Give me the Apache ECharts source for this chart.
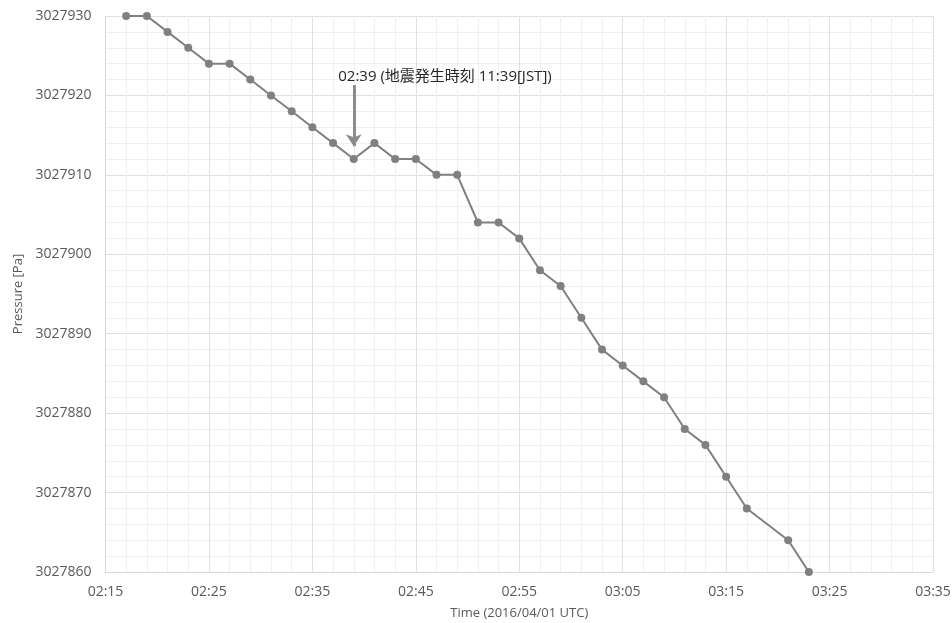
<!DOCTYPE html>
<html>
<head>
<meta charset="utf-8">
<script src="https://cdn.jsdelivr.net/npm/echarts@6/dist/echarts.min.js"></script>
<style>html,body{margin:0;padding:0;background:#fff}#c{width:952px;height:623px}</style>
</head>
<body>
<div id="c"></div>
<script>
const baseTime = "02:15";
const times = ["02:17","02:19","02:21","02:23","02:25","02:27","02:29","02:31","02:33","02:35","02:37","02:39","02:41","02:43","02:45","02:47","02:49","02:51","02:53","02:55","02:57","02:59","03:01","03:03","03:05","03:07","03:09","03:11","03:13","03:15","03:17","03:21","03:23"];
const pressure = [3027930,3027930,3027928,3027926,3027924,3027924,3027922,3027920,3027918,3027916,3027914,3027912,3027914,3027912,3027912,3027910,3027910,3027904,3027904,3027902,3027898,3027896,3027892,3027888,3027886,3027884,3027882,3027878,3027876,3027872,3027868,3027864,3027860];
const quakeTime = "02:39";
const quakeText = "02:39 (地震発生時刻 11:39[JST])";
const arrowFrom = 3027921.3;
const arrowTo = 3027913.6;

function toMin(s){const p=s.split(':');return (+p[0])*60+(+p[1]);}
const base = toMin(baseTime);
function fmt(v){const m=base+v;const h=Math.floor(m/60),mm=m%60;return String(h).padStart(2,'0')+':'+String(mm).padStart(2,'0');}
const data = times.map((t,i)=>[toMin(t)-base, pressure[i]]);
const qx = toMin(quakeTime)-base;

const font = "'Open Sans','Noto Sans CJK JP',sans-serif";
const chart = echarts.init(document.getElementById('c'));
chart.setOption({
  animation:false,
  grid:{left:105.5,right:19,top:16,bottom:51,containLabel:false,outerBoundsMode:'none'},
  xAxis:{
    type:'value',min:0,max:80,interval:10,
    name:'Time (2016/04/01 UTC)',nameLocation:'middle',nameGap:35,
    nameTextStyle:{color:'#595959',fontSize:13,fontFamily:font},
    axisLine:{show:true,lineStyle:{color:'#d9d9d9',width:1}},
    axisTick:{show:false},
    axisLabel:{color:'#595959',fontSize:14,fontFamily:font,margin:13,formatter:v=>fmt(v)},
    splitLine:{show:true,lineStyle:{color:'#e0e0e0',width:1}},
    minorTick:{show:false,splitNumber:5},
    minorSplitLine:{show:true,lineStyle:{color:'#f0f0f0',width:1}}
  },
  yAxis:{
    type:'value',min:3027860,max:3027930,interval:10,
    name:'Pressure [Pa]',nameLocation:'middle',nameGap:81,
    nameTextStyle:{color:'#595959',fontSize:13,fontFamily:font},
    axisLine:{show:true,lineStyle:{color:'#d9d9d9',width:1}},
    axisTick:{show:false},
    axisLabel:{color:'#595959',fontSize:14,fontFamily:font,margin:14,formatter:v=>String(v)},
    splitLine:{show:true,lineStyle:{color:'#e0e0e0',width:1}},
    minorTick:{show:false,splitNumber:5},
    minorSplitLine:{show:true,lineStyle:{color:'#f0f0f0',width:1}}
  },
  series:[{
    type:'line',data:data,
    symbol:'circle',symbolSize:8,
    lineStyle:{color:'#808080',width:2},
    itemStyle:{color:'#808080'},
    markLine:{
      silent:true,
      symbol:['none','arrow'],symbolSize:[12,12],
      lineStyle:{color:'#8c8c8c',width:3,type:'solid'},
      label:{show:false},
      data:[[{coord:[qx,arrowFrom]},{coord:[qx,arrowTo]}]]
    },
    markPoint:{
      silent:true,
      symbol:'rect',symbolSize:1,
      itemStyle:{color:'rgba(0,0,0,0)'},
      label:{show:true,position:[-15,-15],formatter:quakeText,color:'#262626',fontSize:15,fontFamily:font},
      data:[{coord:[qx,arrowFrom]}]
    }
  }]
});
</script>
</body>
</html>
